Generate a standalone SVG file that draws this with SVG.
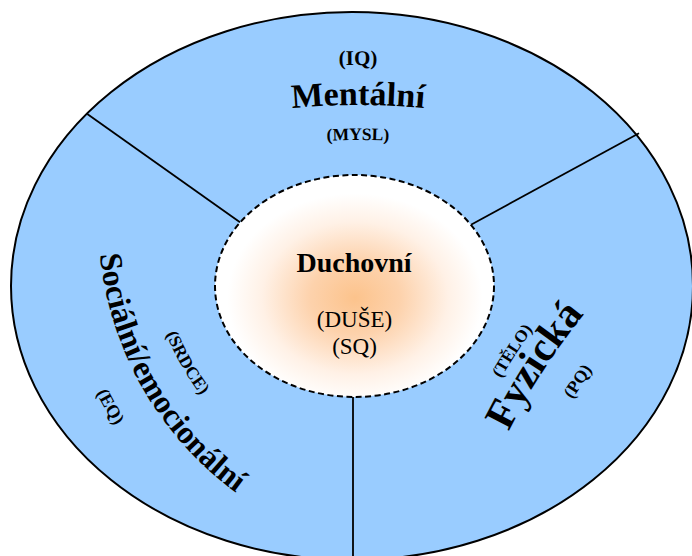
<svg xmlns="http://www.w3.org/2000/svg" xmlns:xlink="http://www.w3.org/1999/xlink" width="692" height="556" viewBox="0 0 692 556">
<style>
.t{font-family:"Liberation Serif","Times New Roman",serif;fill:#000}
.b{font-weight:bold}
.seg{stroke:#000;stroke-width:1.8;fill:none}
</style>
<defs>
<radialGradient id="glow" cx="355" cy="298" r="150" gradientUnits="userSpaceOnUse" gradientTransform="translate(355 298) scale(1 0.82) translate(-355 -298)">
<stop offset="0" stop-color="#FCC38C"/>
<stop offset="0.3" stop-color="#FDD2AC"/>
<stop offset="0.62" stop-color="#FFF1E6"/>
<stop offset="0.85" stop-color="#FFFFFF"/>
</radialGradient>
<path id="pIQ" d="M308,66.7 A740,740 0 0 1 408,66.7"/>
<path id="pMent" d="M258,112.2 A700,700 0 0 1 458,112.2"/>
<path id="pMysl" d="M298,142.7 A665,665 0 0 1 418,142.7"/>
<path id="pSoc" d="M98.3,219.9 A336,336 0 0 0 265,511.6"/>
<path id="pSrdce" d="M143.3,220.1 A291,291 0 0 0 287.7,472.8"/>
<path id="pEQ" d="M55.3,219.7 A379,379 0 0 0 243.4,548.8"/>
<path id="pFyz" d="M472.8,519.4 A630,630 0 0 1 649.7,245.4"/>
<path id="pTelo" d="M442.4,509.6 A662,662 0 0 1 628.2,221.7"/>
<path id="pPQ" d="M514,522.4 A590,590 0 0 1 683.9,268.6"/>
</defs>
<rect width="692" height="556" fill="#FFFFFF"/>
<g id="outer-ring">
<ellipse cx="352" cy="286" rx="341" ry="274" fill="#99CCFF" stroke="#000" stroke-width="2"/>
</g>
<g id="connectors">
<line class="seg" x1="87.3" y1="114" x2="240" y2="222.3"/>
<line class="seg" x1="639" y1="133.3" x2="471" y2="224.7"/>
<line class="seg" x1="353" y1="397" x2="353" y2="562"/>
</g>
<g id="mentalni">
<text class="t b" font-size="21"><textPath href="#pIQ" startOffset="50%" text-anchor="middle">(IQ)</textPath></text>
<text class="t b" font-size="34"><textPath href="#pMent" startOffset="50%" text-anchor="middle">Mentální</textPath></text>
<text class="t b" font-size="17.5"><textPath href="#pMysl" startOffset="50%" text-anchor="middle">(MYSL)</textPath></text>
</g>
<g id="socialni">
<text class="t b" font-size="17.5"><textPath href="#pSrdce" startOffset="50%" text-anchor="middle">(SRDCE)</textPath></text>
<text class="t b" font-size="32"><textPath href="#pSoc" startOffset="50%" text-anchor="middle">Sociální/emocionální</textPath></text>
<text class="t b" font-size="18"><textPath href="#pEQ" startOffset="50%" text-anchor="middle">(EQ)</textPath></text>
</g>
<g id="fyzicka">
<text class="t b" font-size="17"><textPath href="#pTelo" startOffset="50%" text-anchor="middle">(TĚLO)</textPath></text>
<text class="t b" font-size="42"><textPath href="#pFyz" startOffset="50%" text-anchor="middle">Fyzická</textPath></text>
<text class="t b" font-size="17.5"><textPath href="#pPQ" startOffset="50%" text-anchor="middle">(PQ)</textPath></text>
</g>
<g id="duchovni">
<ellipse cx="354.5" cy="286" rx="139.5" ry="111" fill="url(#glow)" stroke="#000" stroke-width="2" stroke-dasharray="6 3.5"/>
<text class="t b" x="354" y="272" font-size="28" text-anchor="middle">Duchovní</text>
<text class="t" x="354.5" y="327" font-size="23" text-anchor="middle">(DUŠE)</text>
<text class="t" x="354.5" y="354" font-size="23" text-anchor="middle">(SQ)</text>
</g>
</svg>
